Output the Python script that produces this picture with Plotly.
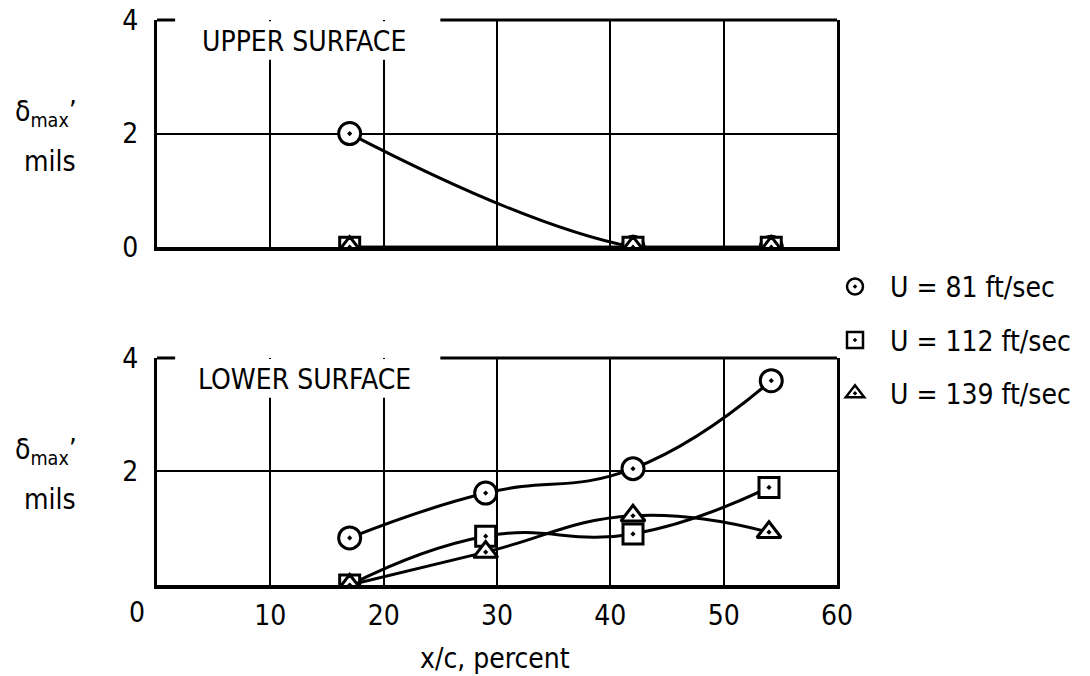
import plotly.graph_objects as go

# ---------------- data ----------------
x_upper = [17, 42, 54.2]
upper_81 = [2.0, 0.0, 0.0]
upper_112 = [0.0, 0.0, 0.0]
upper_139 = [0.0, 0.0, 0.0]

x_lower_81 = [17, 29, 42, 54.2]
lower_81 = [0.83, 1.62, 2.05, 3.6]
x_lower_112 = [17, 29, 42, 54]
lower_112 = [0.0, 0.86, 0.9, 1.72]
x_lower_139 = [17, 29, 42, 54]
lower_139 = [0.0, 0.58, 1.22, 0.93]

series_names = ["U = 81 ft/sec", "U = 112 ft/sec", "U = 139 ft/sec"]
x_ticks = [10, 20, 30, 40, 50, 60]
y_ticks = [2, 4]
panel_titles = ["UPPER SURFACE", "LOWER SURFACE"]

FONT = "Liberation Sans Narrow, Arial Narrow, DejaVu Sans Condensed, Roboto Condensed, Liberation Sans, sans-serif"
FS = 28
symbols = ["circle-dot", "square-dot", "triangle-up-dot"]
sizes = [22, 20, 21]

fig = go.Figure()

def add_series(x, y, i, xa, ya):
    fig.add_trace(go.Scatter(
        x=x, y=y, mode="lines+markers", xaxis=xa, yaxis=ya,
        line=dict(color="black", width=3, shape="spline", smoothing=1.3),
        marker=dict(symbol=symbols[i], size=sizes[i], color="white",
                    line=dict(color="black", width=3)),
        showlegend=False, hoverinfo="skip"))

# upper panel (x, y)
add_series(x_upper, upper_81, 0, "x", "y")
add_series(x_upper, upper_112, 1, "x", "y")
add_series(x_upper, upper_139, 2, "x", "y")
# lower panel (x2, y2)
add_series(x_lower_81, lower_81, 0, "x2", "y2")
add_series(x_lower_112, lower_112, 1, "x2", "y2")
add_series(x_lower_139, lower_139, 2, "x2", "y2")

# legend-only traces
for i, name in enumerate(series_names):
    fig.add_trace(go.Scatter(
        x=[None], y=[None], mode="markers", name=name, legendgroup=str(i),
        marker=dict(symbol=symbols[i], size=sizes[i], color="white",
                    line=dict(color="black", width=2.5))))

grid_common = dict(showgrid=True, gridcolor="black", gridwidth=2, zeroline=False,
                   ticklabeloverflow="allow",
                   tickfont=dict(family=FONT, size=FS, color="black"))
xaxis_common = dict(showline=True, mirror=False, linecolor="black", linewidth=4,
                    range=[0, 60], tickvals=x_ticks, **grid_common)
yaxis_common = dict(showline=True, mirror=True, linecolor="black", linewidth=3,
                    range=[0, 4], ticks="outside", ticklen=10,
                    tickcolor="rgba(0,0,0,0)", **grid_common)

fig.update_layout(
    width=1090, height=676,
    paper_bgcolor="white", plot_bgcolor="white",
    margin=dict(l=149, r=261, t=12, b=99, autoexpand=False),
    font=dict(family=FONT, size=FS, color="black"),
    xaxis=dict(domain=[0, 1], anchor="y", showticklabels=False, ticks="", **xaxis_common),
    yaxis=dict(domain=[0.598, 1], anchor="x", tickvals=[0, 2, 4], **yaxis_common),
    xaxis2=dict(domain=[0, 1], anchor="y2", ticks="outside", ticklen=2,
                tickcolor="rgba(0,0,0,0)", **xaxis_common),
    yaxis2=dict(domain=[0, 0.4018], anchor="x2", tickvals=y_ticks, **yaxis_common),
    showlegend=True,
    legend=dict(x=0.975, y=0.572, xanchor="left", yanchor="top",
                bgcolor="rgba(0,0,0,0)", itemwidth=60, tracegroupgap=14,
                font=dict(family=FONT, size=FS, color="black")),
)

# white box hides grid lines under the panel title; top frame line broken there
title_gap = (1.6 / 60, 25 / 60)
for xr, yr in (("x", "y"), ("x2", "y2")):
    fig.add_shape(type="rect", xref=xr, yref=yr, x0=1.6, x1=25, y0=3.3, y1=3.98,
                  fillcolor="white", line=dict(width=0), layer="above")
    fig.add_shape(type="line", xref=xr + " domain", yref=yr + " domain",
                  x0=0, x1=title_gap[0], y0=1, y1=1,
                  line=dict(color="black", width=3), layer="above")
    fig.add_shape(type="line", xref=xr + " domain", yref=yr + " domain",
                  x0=title_gap[1], x1=1, y0=1, y1=1,
                  line=dict(color="black", width=3), layer="above")

fig.add_annotation(x=13, y=3.62, xref="x", yref="y", text=panel_titles[0],
                   showarrow=False, font=dict(family=FONT, size=FS))
fig.add_annotation(x=13, y=3.62, xref="x2", yref="y2", text=panel_titles[1],
                   showarrow=False, font=dict(family=FONT, size=FS))

# y-axis titles
for yr in ("y", "y2"):
    fig.add_annotation(x=-0.163, y=2.35, xref="paper", yref=yr,
                       text="δ<sub>max</sub>’", showarrow=False,
                       xanchor="center", yanchor="middle", font=dict(family=FONT, size=FS))
    fig.add_annotation(x=-0.157, y=1.5, xref="paper", yref=yr, text="mils",
                       showarrow=False, xanchor="center", yanchor="middle",
                       font=dict(family=FONT, size=FS))

# corner zero label
fig.add_annotation(x=0, y=0, xref="x2", yref="y2", text="0", showarrow=False,
                   xanchor="center", yanchor="middle", xshift=-20, yshift=-27,
                   font=dict(family=FONT, size=FS))

# x-axis title
fig.add_annotation(x=0.497, y=-0.13, xref="paper", yref="paper", text="x/c, percent",
                   showarrow=False, yanchor="middle", font=dict(family=FONT, size=FS))

fig.write_html("out.html")
